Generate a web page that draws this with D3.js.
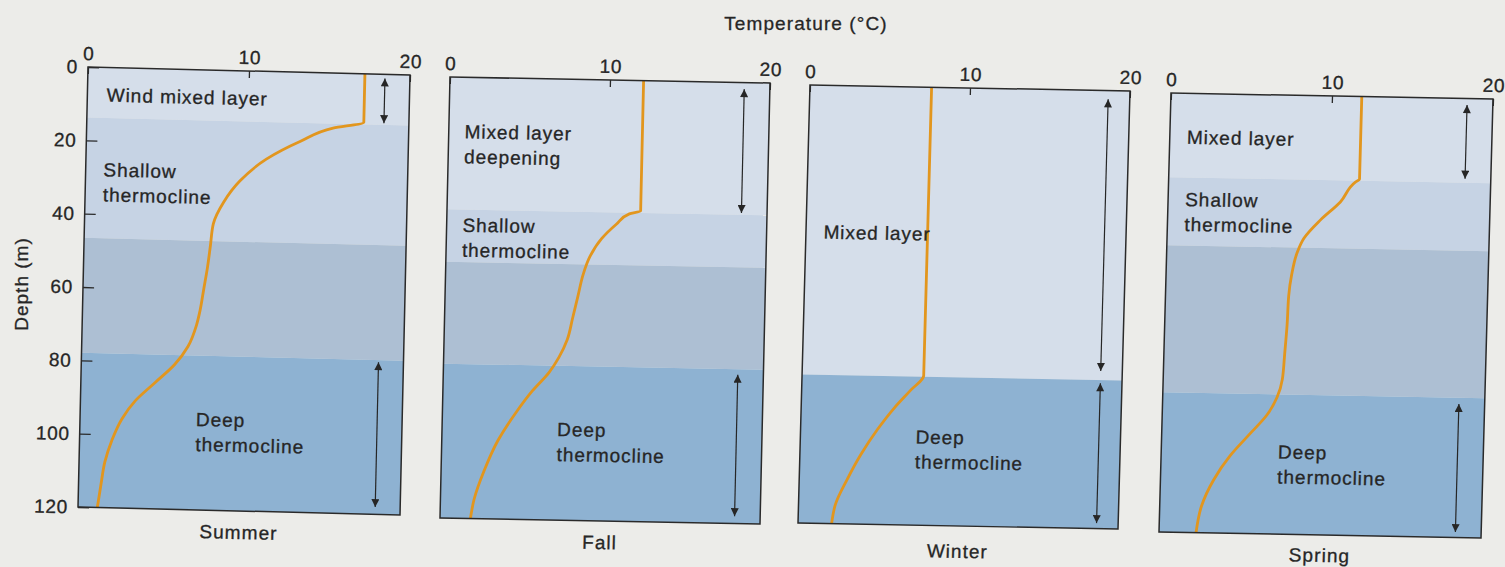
<!DOCTYPE html>
<html>
<head>
<meta charset="utf-8">
<script src="https://cdn.jsdelivr.net/npm/d3@7"></script>
<style>
  html, body { margin: 0; padding: 0; background: #ecece9; }
  svg { display: block; }
  text { font-family: "Liberation Sans", Arial, Helvetica, sans-serif; fill: #262626; stroke: #262626; stroke-width: 0.3px; }
</style>
</head>
<body>
<svg id="chart" width="1505" height="567"></svg>
<script>
// ---- data -------------------------------------------------------------
const seasons = ["Summer", "Fall", "Winter", "Spring"];
const tempTicks = [0, 10, 20];
const depthTicks = [0, 20, 40, 60, 80, 100, 120];

// temperature profiles: depth (m) and temperature (°C)
const summerDepth = [0, 13.2, 15.0, 18.8, 23.9, 30.0, 36.0, 41.9, 47.9, 53.8, 59.7, 65.6, 69.6, 75.5, 80.5, 85.6, 90.7, 95.7, 101.7, 107.6, 113.5, 120];
const summerTemp  = [17.2, 17.2, 15.3, 13.3, 11.2, 9.6, 8.6, 8.0, 7.85, 7.7, 7.5, 7.3, 7.1, 6.6, 5.8, 4.6, 3.4, 2.6, 2.0, 1.6, 1.4, 1.2];

const fallDepth = [0, 35.5, 36.3, 39.2, 43.2, 48.1, 53.0, 59.0, 65.0, 70.8, 75.7, 79.9, 84.9, 90.9, 98.7, 106.8, 114.8, 120];
const fallTemp  = [12.1, 12.1, 11.4, 10.6, 9.7, 9.0, 8.6, 8.3, 8.0, 7.7, 7.2, 6.6, 5.6, 4.6, 3.5, 2.7, 2.1, 1.9];

const winterDepth = [0, 79.0, 83.1, 88.1, 94.0, 101.0, 107.8, 114.8, 120];
const winterTemp  = [7.6, 7.6, 6.8, 5.8, 4.8, 3.8, 3.0, 2.3, 2.1];

const springDepth = [0, 22.6, 23.4, 28.9, 33.9, 39.0, 43.0, 49.0, 54.9, 62.8, 70.7, 77.6, 82.6, 87.5, 92.6, 98.7, 105.5, 112.6, 120];
const springTemp  = [11.85, 11.85, 11.6, 10.7, 9.5, 8.5, 8.1, 7.8, 7.65, 7.6, 7.5, 7.4, 7.1, 6.5, 5.5, 4.3, 3.3, 2.6, 2.3];

// layer boundaries (m) and the layer kind that ends at each one
const summerLayers = [{kind: "mixed", to: 13.8}, {kind: "shallow", to: 46.6}, {kind: "middle", to: 77.9}, {kind: "deep", to: 120}];
const fallLayers   = [{kind: "mixed", to: 36.0}, {kind: "shallow", to: 50.3}, {kind: "middle", to: 78.0}, {kind: "deep", to: 120}];
const winterLayers = [{kind: "mixed", to: 79.3}, {kind: "deep", to: 120}];
const springLayers = [{kind: "mixed", to: 23.0}, {kind: "shallow", to: 41.6}, {kind: "middle", to: 81.8}, {kind: "deep", to: 120}];

// depth ranges spanned by the double-headed arrows (m)
const summerSpans = [[1.1, 13.3], [78.5, 118]];
const fallSpans   = [[1.8, 35.5], [79.5, 118]];
const winterSpans = [[2.4, 76.8], [80.2, 118.5]];
const springSpans = [[1.8, 21.9], [83.5, 118.5]];

// layer names written inside each panel
const summerNames = [["Wind mixed layer"], ["Shallow", "thermocline"], ["Deep", "thermocline"]];
const fallNames   = [["Mixed layer", "deepening"], ["Shallow", "thermocline"], ["Deep", "thermocline"]];
const winterNames = [["Mixed layer"], ["Deep", "thermocline"]];
const springNames = [["Mixed layer"], ["Shallow", "thermocline"], ["Deep", "thermocline"]];

// ---- layout -----------------------------------------------------------
const W = 320, H = 440;
const layerFill = { mixed: "#d5deea", shallow: "#c6d3e4", middle: "#adbfd3", deep: "#8eb2d2" };

// each panel sits slightly tilted: top-left, top-right and bottom-left corners
const panelLayout = [
  { tl: [88, 67],   tr: [410, 75],  bl: [78, 507],  arrowT: 18.45, nameAt: [[1.2, 9.3], [1.1, 29.7], [7.2, 97.1]], captionY: 28 },
  { tl: [450, 77],  tr: [770, 83],  bl: [440, 518], arrowT: 18.4,  nameAt: [[1.0, 16.6], [1.0, 42.0], [7.2, 97.1]], captionY: 28 },
  { tl: [810, 85],  tr: [1130, 91], bl: [798, 523], arrowT: 18.65, nameAt: [[1.1, 42.0], [7.2, 97.6]], captionY: 32 },
  { tl: [1171, 93], tr: [1493, 99], bl: [1159, 532], arrowT: 18.4, nameAt: [[1.06, 13.8], [1.06, 30.8], [7.25, 99.3]], captionY: 27 }
];

const profiles = [
  { depth: summerDepth, temp: summerTemp, layers: summerLayers, spans: summerSpans, names: summerNames },
  { depth: fallDepth,   temp: fallTemp,   layers: fallLayers,   spans: fallSpans,   names: fallNames },
  { depth: winterDepth, temp: winterTemp, layers: winterLayers, spans: winterSpans, names: winterNames },
  { depth: springDepth, temp: springTemp, layers: springLayers, spans: springSpans, names: springNames }
];

const x = d3.scaleLinear().domain([0, 20]).range([0, W]);
const y = d3.scaleLinear().domain([0, 120]).range([0, H]);

const svg = d3.select("#chart");

// arrowhead used on both ends of the layer-span arrows
svg.append("defs").append("marker")
  .attr("id", "head")
  .attr("viewBox", "0 0 10 10")
  .attr("refX", 10).attr("refY", 5)
  .attr("markerWidth", 10).attr("markerHeight", 8)
  .attr("markerUnits", "userSpaceOnUse")
  .attr("orient", "auto-start-reverse")
  .append("path").attr("d", "M0,0 L10,5 L0,10 Z").attr("fill", "#262626");

const line = d3.line()
  .x(d => x(d.t))
  .y(d => y(d.d))
  .curve(d3.curveMonotoneY);

seasons.forEach((season, i) => {
  const L = panelLayout[i];
  const P = profiles[i];
  const a = (L.tr[0] - L.tl[0]) / W, b = (L.tr[1] - L.tl[1]) / W;
  const c = (L.bl[0] - L.tl[0]) / H, d = (L.bl[1] - L.tl[1]) / H;
  const g = svg.append("g")
    .attr("transform", `matrix(${a},${b},${c},${d},${L.tl[0]},${L.tl[1]})`);

  // water layers
  let top = 0;
  P.layers.forEach(layer => {
    g.append("rect")
      .attr("x", 0).attr("width", W)
      .attr("y", y(top)).attr("height", y(layer.to) - y(top))
      .attr("fill", layerFill[layer.kind]);
    top = layer.to;
  });

  // temperature profile
  const pts = P.depth.map((dep, k) => ({ d: dep, t: P.temp[k] }));
  g.append("path")
    .datum(pts)
    .attr("d", line)
    .attr("fill", "none")
    .attr("stroke", "#e2961e")
    .attr("stroke-width", 2.8)
    .attr("stroke-linejoin", "round");

  // layer-span arrows
  P.spans.forEach(s => {
    g.append("line")
      .attr("x1", x(L.arrowT)).attr("x2", x(L.arrowT))
      .attr("y1", y(s[0])).attr("y2", y(s[1]))
      .attr("stroke", "#262626").attr("stroke-width", 1.2)
      .attr("marker-start", "url(#head)").attr("marker-end", "url(#head)");
  });

  // layer names
  P.names.forEach((lines, k) => {
    const t = g.append("text")
      .attr("x", x(L.nameAt[k][0]))
      .attr("y", y(L.nameAt[k][1]))
      .attr("font-size", 19)
      .attr("letter-spacing", 0.9);
    lines.forEach((ln, j) => {
      t.append("tspan").attr("x", x(L.nameAt[k][0])).attr("dy", j === 0 ? 0 : 25).text(ln);
    });
  });

  // frame
  g.append("rect")
    .attr("x", 0).attr("y", 0).attr("width", W).attr("height", H)
    .attr("fill", "none").attr("stroke", "#2a2a2a").attr("stroke-width", 1.5);

  // temperature axis along the top
  const topAxis = g.append("g")
    .call(d3.axisTop(x).tickValues(tempTicks).tickSizeInner(-7).tickSizeOuter(0).tickPadding(7));
  topAxis.select(".domain").remove();
  topAxis.selectAll("line").attr("stroke", "#2a2a2a").attr("stroke-width", 1.3);
  topAxis.selectAll("text")
    .attr("font-size", 19).attr("letter-spacing", 0.6)
    .attr("font-family", "Liberation Sans, Arial, sans-serif").attr("fill", "#262626");

  // depth axis on the first panel only
  if (i === 0) {
    const leftAxis = g.append("g")
      .call(d3.axisLeft(y).tickValues(depthTicks).tickSizeInner(-11).tickSizeOuter(0).tickPadding(10));
    leftAxis.select(".domain").remove();
    leftAxis.selectAll("line").attr("stroke", "#2a2a2a").attr("stroke-width", 1.3);
    leftAxis.selectAll("text")
      .attr("font-size", 19).attr("letter-spacing", 0.6)
      .attr("font-family", "Liberation Sans, Arial, sans-serif").attr("fill", "#262626");
  }

  // season caption
  g.append("text")
    .attr("x", W / 2).attr("y", H + L.captionY)
    .attr("text-anchor", "middle")
    .attr("font-size", 19).attr("letter-spacing", 1)
    .text(season);
});

// shared titles
svg.append("text")
  .attr("x", 806).attr("y", 30)
  .attr("text-anchor", "middle")
  .attr("font-size", 19).attr("letter-spacing", 1.1)
  .text("Temperature (°C)");

svg.append("text")
  .attr("transform", "translate(28,284) rotate(-90)")
  .attr("text-anchor", "middle")
  .attr("font-size", 19).attr("letter-spacing", 1)
  .text("Depth (m)");
</script>
</body>
</html>
